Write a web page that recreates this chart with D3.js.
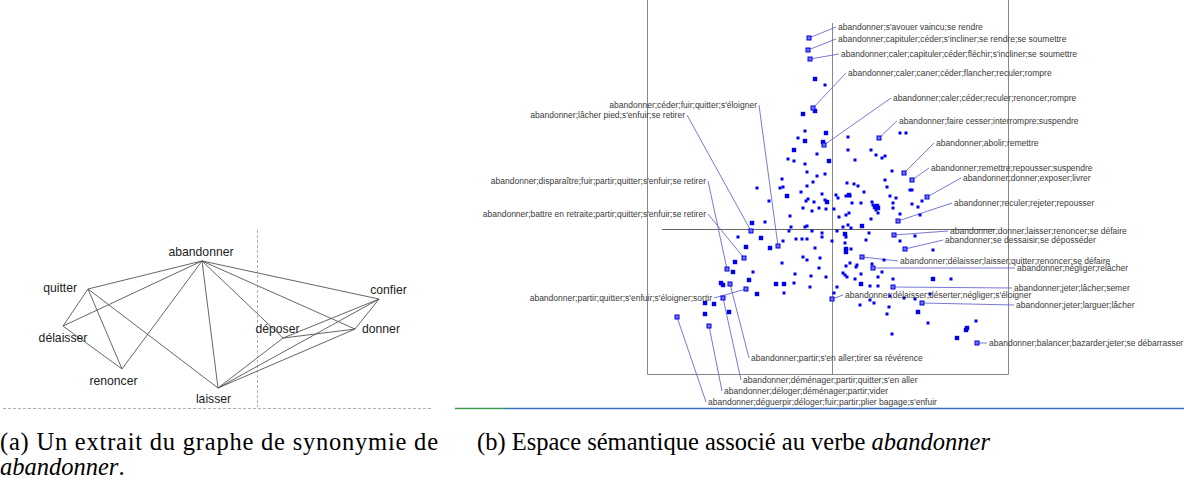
<!DOCTYPE html>
<html><head><meta charset="utf-8">
<script src="https://cdn.jsdelivr.net/npm/d3@7"></script>
<style>body{margin:0;background:#fff} svg{display:block}</style>
</head><body>
<svg id="c" width="1184" height="481"></svg>
<script>
// ---------- Panel (a): synonym graph ----------
const graphNodes = ["abandonner","quitter","délaisser","renoncer","laisser","déposer","donner","confier"];
const graphNodeX = [45.5, 17, 10.75, 25.5, 49.5, 65.75, 83.75, 89.75];
const graphNodeY = [7.3, 26, 50.7, 79.3, 92, 58.7, 52.7, 32.7];
const graphEdges = [
  ["abandonner","quitter"],["abandonner","délaisser"],["abandonner","renoncer"],["abandonner","laisser"],
  ["abandonner","déposer"],["abandonner","donner"],["abandonner","confier"],
  ["quitter","délaisser"],["quitter","renoncer"],["quitter","laisser"],["délaisser","renoncer"],
  ["laisser","déposer"],["laisser","donner"],["laisser","confier"],
  ["déposer","donner"],["déposer","confier"],["donner","confier"]
];

// ---------- Panel (b): semantic space ----------
// unlabeled points: [x, y, weight]
const spacePoints = [
[-17,150,2],[-7,144,1],[-17,118,2],[-29,115,2],[-27,98,1],[-6,96,2],[-34,91,1],[-27,88,2],[-9,87,2],
[16,92,1],[68,96,1],[74,96,1],[-38,79,2],[16,79,1],[39,79,1],[44,74,1],[53,73,1],[50,71,1],[23,69,1],
[-15,75,1],[-44,70,1],[-38,68,1],[-3,68,2],[-27,65,1],[-25,57,1],[-15,53,1],[-7,55,1],[60,58,1],
[-50,50,1],[-19,47,1],[-52,41,1],[-49,42,1],[-25,43,1],[-75,41,1],[-45,33,2],[-31,37,1],[-10,35,1],
[-24,30,1],[-26,28,1],[-18,27,1],[-7,29,1],[-5,27,2],[4,34,1],[6,31,1],[14,33,1],[17,34,2],[18,33,1],
[15,46,1],[22,45,1],[26,43,1],[32,37,1],[53,49,1],[55,42,1],[78,39,1],[80,39,1],[90,28,1],[80,25,1],
[86,22,1],[58,33,1],[64,31,1],[61,26,1],[61,21,1],[40,27,1],[41,24,1],[43,22,2],[45,23,2],[46,21,2],
[44,19,1],[46,16,1],[20,26,1],[29,26,1],[-6,20,1],[2,20,1],[68,15,1],[88,14,1],[17,16,1],[14,14,1],
[7,12,1],[39,10,1],[-63,28,1],[-29,21,1],[-13,21,1],[-20,18,1],[-42,13,1],[-80,6,2],[-67,7,1],[-41,2,1],
[-27,2,1],[-25,3,1],[-20,-2,1],[-10,-4,1],[-10,-8,1],[5,-2,1],[-43,-2,1],[-94,-8,1],[-71,-9,2],[-49,-12,1],
[-36,-10,1],[-30,-10,1],[-25,-10,1],[0,-12,1],[-86,-18,2],[-62,-19,2],[-17,-19,1],[11,2,1],[16,4,1],
[19,1,1],[30,3,2],[13,-5,2],[14,-8,1],[13,-14,1],[14,-20,2],[14,-23,2],[19,-20,1],[37,-4,1],[34,-11,1],
[68,-12,1],[83,-7,1],[101,-21,1],
[-97,-33,2],[-99,-43,2],[-79,-43,1],[-83,-51,2],[-111,-54,2],[-109,-56,2],[-75,-65,2],[-50,-34,1],
[-29,-28,1],[-25,-31,1],[-12,-29,1],[-13,-39,1],[-37,-45,1],[-21,-47,1],[-6,-48,1],[-56,-55,2],[-48,-55,2],
[-38,-54,1],[-48,-64,1],[-22,-58,1],[5,-58,1],[2,-64,1],
[-127,-74,2],[-118,-75,2],[-103,-83,2],[-127,-85,2],
[52,-31,1],[14,-37,1],[18,-34,1],[24,-38,1],[25,-36,1],[40,-35,1],[50,-43,1],[46,-48,1],[29,-45,1],
[11,-44,1],[13,-46,1],[15,-48,1],[23,-50,1],[61,-50,1],[101,-50,2],[119,-50,1],[29,-55,2],[38,-57,1],
[46,-57,1],[58,-67,1],[38,-71,1],[42,-74,1],[28,-76,1],[72,-69,1],[83,-70,1],[98,-65,1],[57,-78,1],
[86,-83,2],[55,-85,1],[96,-94,1],[144,-92,1],[135,-99,2],[134,-101,2],[125,-109,2],[60,-105,1]
];

const labelTexts = [
"abandonner;s'avouer vaincu;se rendre",
"abandonner;capituler;céder;s'incliner;se rendre;se soumettre",
"abandonner;caler;capituler;céder;fléchir;s'incliner;se soumettre",
"abandonner;caler;caner;céder;flancher;reculer;rompre",
"abandonner;caler;céder;reculer;renoncer;rompre",
"abandonner;faire cesser;interrompre;suspendre",
"abandonner;abolir;remettre",
"abandonner;remettre;repousser;suspendre",
"abandonner;donner;exposer;livrer",
"abandonner;reculer;rejeter;repousser",
"abandonner;donner;laisser;renoncer;se défaire",
"abandonner;se dessaisir;se déposséder",
"abandonner;délaisser;laisser;quitter;renoncer;se défaire",
"abandonner;négliger;relâcher",
"abandonner;jeter;lâcher;semer",
"abandonner;délaisser;déserter;négliger;s'éloigner",
"abandonner;jeter;larguer;lâcher",
"abandonner;balancer;bazarder;jeter;se débarrasser",
"abandonner;céder;fuir;quitter;s'éloigner",
"abandonner;lâcher pied;s'enfuir;se retirer",
"abandonner;disparaître;fuir;partir;quitter;s'enfuir;se retirer",
"abandonner;battre en retraite;partir;quitter;s'enfuir;se retirer",
"abandonner;partir;quitter;s'enfuir;s'éloigner;sortir",
"abandonner;partir;s'en aller;tirer sa révérence",
"abandonner;déménager;partir;quitter;s'en aller",
"abandonner;déloger;déménager;partir;vider",
"abandonner;déguerpir;déloger;fuir;partir;plier bagage;s'enfuir"
];
const labelPointX = [-23,-24,-22,-19,-8,47,72,80,95,66,62,73,30,41,61,0,90,145,-54,-81,-105,-88,-86,-102,-109,-123,-155];
const labelPointY = [191,179,170,121,84,91,56,49,32,8,-6,-20,-28,-39,-58,-70,-74,-114,-17,-2,-40,-29,-60,-55,-69,-97,-88];

// layout of the label texts (same units as the points)
const labelLayout = [
[6,202,"s"],[6,190,"s"],[9,175,"s"],[16,156,"s"],[61,131,"s"],[67,108,"s"],[104,86,"s"],[99,61,"s"],
[131,51,"s"],[122,26,"s"],[118,-2,"s"],[113,-11,"s"],[68,-32,"s"],[185,-39,"s"],[182,-59,"s"],[13,-66,"s"],
[184,-76,"s"],[157,-114,"s"],[-75,124,"e"],[-147,114,"e"],[-126,48,"e"],[-126,15,"e"],[-120,-69,"e"],
[-81,-129,"s"],[-89,-151,"s"],[-108,-162,"s"],[-124,-173,"s"]
];

const captionA = ["(a) Un extrait du graphe de synonymie de", "abandonner"];
const captionB = ["(b) Espace sémantique associé au verbe ", "abandonner"];

// ---------- drawing ----------
const svg = d3.select("#c");

// Panel (a)
const gx = d3.scaleLinear().domain([0,100]).range([20,420]);
const gy = d3.scaleLinear().domain([0,100]).range([250,400]);
const pa = svg.append("g");
pa.append("line").attr("x1",257.5).attr("x2",257.5).attr("y1",230).attr("y2",407)
  .attr("stroke","#b0b0b0").attr("stroke-dasharray","3,2");
pa.append("line").attr("x1",3).attr("x2",433).attr("y1",408.5).attr("y2",408.5)
  .attr("stroke","#b0b0b0").attr("stroke-dasharray","3,2");
const nodeIdx = n => graphNodes.indexOf(n);
pa.selectAll("line.edge").data(graphEdges).join("line").attr("class","edge")
  .attr("x1",d=>gx(graphNodeX[nodeIdx(d[0])])).attr("y1",d=>gy(graphNodeY[nodeIdx(d[0])]))
  .attr("x2",d=>gx(graphNodeX[nodeIdx(d[1])])).attr("y2",d=>gy(graphNodeY[nodeIdx(d[1])]))
  .attr("stroke","#555").attr("stroke-width",0.9);
const nodeLabelStyle = {
  "abandonner":[-1,-5,"middle"],"quitter":[-11,3,"end"],"délaisser":[0,16,"middle"],
  "renoncer":[-8.5,16,"middle"],"laisser":[-4.5,15,"middle"],"déposer":[-5.5,-5,"middle"],
  "donner":[7,4,"start"],"confier":[9.5,-5,"middle"]
};
pa.selectAll("text.node").data(graphNodes).join("text").attr("class","node")
  .attr("x",(d,i)=>gx(graphNodeX[i])+nodeLabelStyle[d][0])
  .attr("y",(d,i)=>gy(graphNodeY[i])+nodeLabelStyle[d][1])
  .attr("text-anchor",d=>nodeLabelStyle[d][2])
  .attr("font-family","Liberation Sans, Arial, sans-serif").attr("font-size",12.2).attr("fill","#222")
  .text(d=>d);

// Panel (b)
const sx = d3.scaleLinear().domain([-185,176]).range([647,1008]);
const sy = d3.scaleLinear().domain([-145,229]).range([374,0]);
const pb = svg.append("g");
pb.append("path").attr("d",`M${sx(-185)+0.5},0V${sy(-145)+0.5}H${sx(176)+0.5}V0`)
  .attr("fill","none").attr("stroke","#888").attr("stroke-width",1);
pb.append("line").attr("x1",sx(0)+0.5).attr("x2",sx(0)+0.5).attr("y1",sy(206)).attr("y2",sy(-145))
  .attr("stroke","#888");
pb.append("line").attr("x1",sx(-170)).attr("x2",sx(163)).attr("y1",sy(0)+0.5).attr("y2",sy(0)+0.5)
  .attr("stroke","#666");

// leader lines
pb.selectAll("line.lead").data(labelTexts).join("line").attr("class","lead")
  .attr("x1",(d,i)=>sx(labelPointX[i])).attr("y1",(d,i)=>sy(labelPointY[i]))
  .attr("x2",(d,i)=>sx(labelLayout[i][0]) + (labelLayout[i][2]==="e"?2:-2))
  .attr("y2",(d,i)=>sy(labelLayout[i][1]))
  .attr("stroke","#6a6ad0").attr("stroke-width",0.9);

// points
pb.selectAll("rect.pt").data(spacePoints).join("rect").attr("class","pt")
  .attr("x",d=>sx(d[0]) - (d[2]===2?2.2:1.5)).attr("y",d=>sy(d[1]) - (d[2]===2?2.2:1.5))
  .attr("width",d=>d[2]===2?4.4:3).attr("height",d=>d[2]===2?4.4:3)
  .attr("fill","#0000f0");
pb.selectAll("rect.lp").data(labelTexts).join("rect").attr("class","lp")
  .attr("x",(d,i)=>sx(labelPointX[i])-2).attr("y",(d,i)=>sy(labelPointY[i])-2)
  .attr("width",4).attr("height",4).attr("fill","#7070ff").attr("stroke","#0000e0").attr("stroke-width",1);

// label texts
pb.selectAll("text.lab").data(labelTexts).join("text").attr("class","lab")
  .attr("x",(d,i)=>sx(labelLayout[i][0])).attr("y",(d,i)=>sy(labelLayout[i][1])+3)
  .attr("text-anchor",(d,i)=>labelLayout[i][2]==="e"?"end":"start")
  .attr("font-family","Liberation Sans, Arial, sans-serif").attr("font-size",8.5).attr("fill","#3a3a3a")
  .text(d=>d);

// bottom rule of panel (b)
svg.append("line").attr("x1",455).attr("x2",505).attr("y1",408.5).attr("y2",408.5).attr("stroke","#3c9a50").attr("stroke-width",1.5);
svg.append("line").attr("x1",505).attr("x2",1184).attr("y1",408.5).attr("y2",408.5).attr("stroke","#3a6fc0").attr("stroke-width",1.5);

// captions
const cap = svg.append("g").attr("font-family","Liberation Serif, Times New Roman, serif").attr("font-size",24.5).attr("fill","#000");
cap.append("text").attr("x",0).attr("y",450).attr("textLength",438).attr("lengthAdjust","spacing").text(captionA[0]);
const ta2 = cap.append("text").attr("x",0).attr("y",475);
ta2.append("tspan").attr("font-style","italic").text(captionA[1]);
ta2.append("tspan").text(".");
const tb = cap.append("text").attr("x",477).attr("y",450);
tb.append("tspan").text(captionB[0]);
tb.append("tspan").attr("font-style","italic").text(captionB[1]);
</script>
</body></html>
